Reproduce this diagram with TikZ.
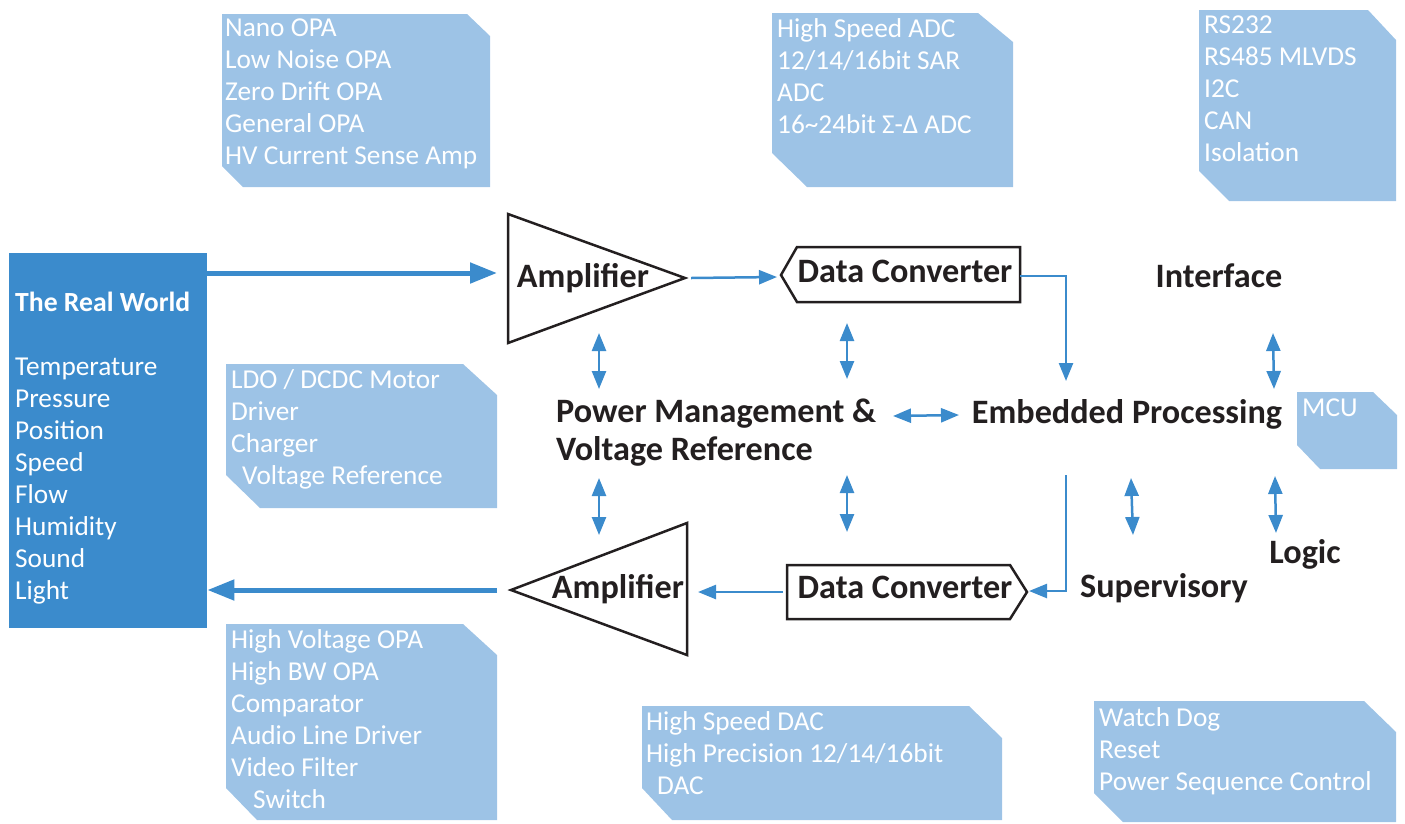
\documentclass[tikz,border=0pt]{standalone}
\usepackage{fontspec}
\setmainfont{Carlito}
\usetikzlibrary{arrows.meta}
\definecolor{deepblue}{RGB}{59,139,204}
\definecolor{paleblue}{RGB}{157,195,230}
\definecolor{inkblack}{RGB}{35,31,32}

\begin{document}
\begin{tikzpicture}[x=1pt,y=-1pt,
  listtext/.style={anchor=base west, inner sep=0pt, text=white, font=\fontsize{27.3}{32}\selectfont},
  blocklabel/.style={anchor=base, inner sep=0pt, text=inkblack, font=\fontsize{34.2}{38}\selectfont\bfseries},
  outline/.style={draw=inkblack, line width=2.5pt, line join=miter},
  thinarrow/.style={draw=deepblue, line width=2.5pt, -{Triangle[length=18pt,width=14pt]}},
  twoway/.style={draw=deepblue, line width=2.5pt, {Triangle[length=18pt,width=14pt]}-{Triangle[length=18pt,width=14pt]}},
  thickarrow/.style={draw=deepblue, line width=5pt, -{Triangle[length=27pt,width=20pt]}}]

\useasboundingbox (0,0) rectangle (1405,823);

% pale info boxes
\fill[paleblue] (222,14) -- (467,14) -- (490,36) -- (490,187) -- (243,187) -- (222,166) -- cycle;
\fill[paleblue] (772,13) -- (978,13) -- (1013,42) -- (1013,187) -- (807,187) -- (772,153) -- cycle;
\fill[paleblue] (1199,10) -- (1368,10) -- (1396,40) -- (1396,201) -- (1229,201) -- (1199,171) -- cycle;
\fill[paleblue] (226,364) -- (463,364) -- (497,395) -- (497,508) -- (260,508) -- (226,475) -- cycle;
\fill[paleblue] (1297,392) -- (1373,392) -- (1397,415) -- (1397,469) -- (1320,469) -- (1297,445) -- cycle;
\fill[paleblue] (226,624) -- (463,624) -- (497,655) -- (497,820) -- (257,820) -- (226,788) -- cycle;
\fill[paleblue] (642,706) -- (969,706) -- (1002,738) -- (1002,820) -- (672,820) -- (642,788) -- cycle;
\fill[paleblue] (1094,701) -- (1364,701) -- (1396,732) -- (1396,822) -- (1123,822) -- (1094,793) -- cycle;

\foreach \t [count=\i] in {Nano OPA, Low Noise OPA, Zero Drift OPA, General OPA, HV Current Sense Amp}
  \node[listtext] (opa\i) at (225,36+32*\i-32) {\t};
\foreach \t [count=\i] in {High Speed ADC, 12/14/16bit SAR, ADC, 16\textasciitilde 24bit Σ-Δ ADC}
  \node[listtext] (adc\i) at (777,37+32*\i-32) {\t};
\foreach \t [count=\i] in {RS232, RS485 MLVDS, I2C, CAN, Isolation}
  \node[listtext] (bus\i) at (1204,33+32*\i-32) {\t};
\foreach \t [count=\i] in {LDO / DCDC Motor, Driver, Charger, \hspace{11pt}Voltage Reference}
  \node[listtext] (ldo\i) at (231,388+32*\i-32) {\t};
\node[listtext] (mcu) at (1302,416) {MCU};
\foreach \t [count=\i] in {High Voltage OPA, High BW OPA, Comparator, Audio Line Driver, Video Filter, \hspace{22pt}Switch}
  \node[listtext] (hv\i) at (231,648+32*\i-32) {\t};
\foreach \t [count=\i] in {High Speed DAC, High Precision 12/14/16bit, \hspace{11pt}DAC}
  \node[listtext] (dac\i) at (646,730+32*\i-32) {\t};
\foreach \t [count=\i] in {Watch Dog, Reset, Power Sequence Control}
  \node[listtext] (wd\i) at (1099,726+32*\i-32) {\t};

% the real world
\node[fill=deepblue, anchor=north west, inner sep=0pt, minimum width=198pt, minimum height=375pt] (world) at (9,253) {};
\node[listtext, font=\fontsize{27.7}{32}\selectfont\bfseries] (worldtitle) at (15,311) {The Real World};
\foreach \t [count=\i] in {Temperature, Pressure, Position, Speed, Flow, Humidity, Sound, Light}
  \node[listtext] (sense\i) at (15,375+32*\i-32) {\t};

% amplifiers and converters
\draw[outline] (508,214) -- (685,278) -- (508,343) -- cycle;
\draw[outline] (687,523) -- (511,590) -- (687,655) -- cycle;
\draw[outline] (781,275) -- (797,247) -- (1020,247) -- (1020,302) -- (797,302) -- cycle;
\draw[outline] (787,565) -- (1010,565) -- (1027,592) -- (1010,619) -- (787,619) -- cycle;

\node[blocklabel] (amp1) at (583,287) {Amplifier};
\node[blocklabel] (dc1) at (905,282) {Data Converter};
\node[blocklabel] (interface) at (1219,287) {Interface};
\node[blocklabel, anchor=base west] (pm1) at (556,422) {Power Management \&};
\node[blocklabel, anchor=base west] (pm2) at (556,460) {Voltage Reference};
\node[blocklabel] (ep) at (1127,423) {Embedded Processing};
\node[blocklabel] (amp2) at (618,598) {Amplifier};
\node[blocklabel] (dc2) at (905,598) {Data Converter};
\node[blocklabel] (super) at (1164,597) {Supervisory};
\node[blocklabel] (logic) at (1305,563) {Logic};

% arrow ends
\coordinate (amp1in) at (497,273);
\coordinate (amp1out) at (691,278);
\coordinate (dc1in) at (777,277);
\coordinate (dc1out) at (1020,276);
\coordinate (epin) at (1066,381);
\coordinate (epout) at (1066,475);
\coordinate (dc2in) at (1029,591);
\coordinate (dc2out) at (783,592);
\coordinate (amp2in) at (698,592);
\coordinate (amp2out) at (497,590);

\draw[thickarrow] (world.east |- amp1in) -- (amp1in);
\draw[thinarrow] (amp1out) -- (dc1in);
\draw[thinarrow] (dc1out) -| (epin);
\draw[thinarrow] (epout) |- (dc2in);
\draw[thinarrow] (dc2out) -- (amp2in);
\draw[thickarrow] (amp2out) -- (world.east |- amp2out);

% two way links
\coordinate (pa1) at (599,333); \coordinate (pa2) at (599,389);
\coordinate (pb1) at (847,323); \coordinate (pb2) at (847,379);
\coordinate (pc1) at (599,478); \coordinate (pc2) at (599,535);
\coordinate (pd1) at (847,475); \coordinate (pd2) at (847,532);
\coordinate (pe1) at (893,416); \coordinate (pe2) at (959,415);
\coordinate (ia1) at (1273,333); \coordinate (ia2) at (1274,389);
\coordinate (sa1) at (1131,478); \coordinate (sa2) at (1133,535);
\coordinate (la1) at (1275,476); \coordinate (la2) at (1276,533);
\foreach \p in {pa,pb,pc,pd,pe,ia,sa,la}
  \draw[twoway] (\p1) -- (\p2);

\end{tikzpicture}
\end{document}
